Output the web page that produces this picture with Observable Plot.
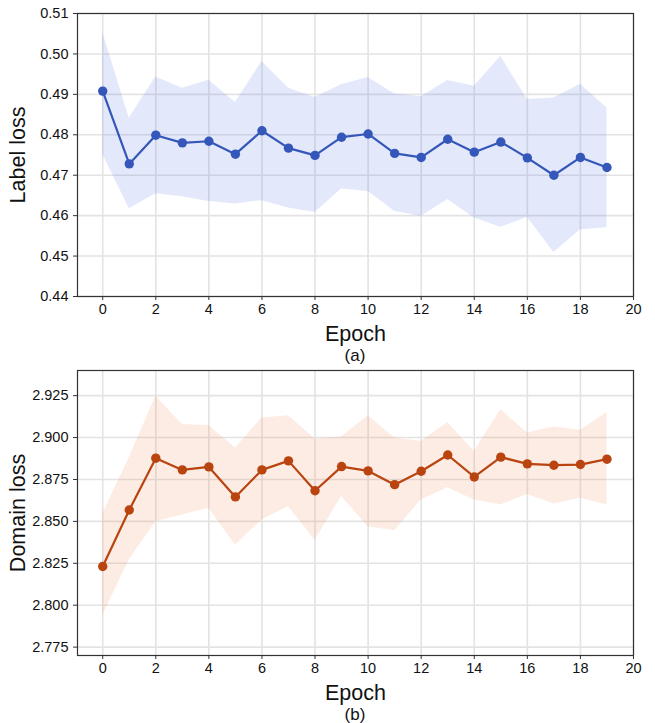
<!DOCTYPE html>
<html>
<head>
<meta charset="utf-8">
<script src="https://cdn.jsdelivr.net/npm/d3@7"></script>
<script src="https://cdn.jsdelivr.net/npm/@observablehq/plot@0.6"></script>
<style>
  body { margin: 0; background: #fff; font-family: "Liberation Sans", Arial, sans-serif; }
  #wrap { width: 655px; height: 723px; position: relative; overflow: hidden; }
  #wrap svg { position: absolute; left: 0; display: block; }
  .cap { position: absolute; left: 355px; transform: translate(-50%, -50%); font-size: 17px; line-height: 1; color: #111; }
</style>
</head>
<body>
<div id="wrap"></div>
<script>
const epochs = [0,1,2,3,4,5,6,7,8,9,10,11,12,13,14,15,16,17,18,19];
const xTicks = [0,2,4,6,8,10,12,14,16,18,20];

const labelMean  = [0.4908,0.4728,0.4799,0.4780,0.4784,0.4752,0.4810,0.4767,0.4749,0.4794,0.4802,0.4754,0.4744,0.4789,0.4757,0.4782,0.4743,0.4700,0.4744,0.4719];
const labelUpper = [0.5053,0.4841,0.4943,0.4915,0.4935,0.4880,0.4981,0.4915,0.4892,0.4924,0.4942,0.4901,0.4894,0.4934,0.4920,0.4994,0.4887,0.4891,0.4925,0.4866];
const labelLower = [0.4752,0.4617,0.4654,0.4647,0.4635,0.4629,0.4637,0.4619,0.4608,0.4666,0.4660,0.4611,0.4598,0.4640,0.4594,0.4571,0.4596,0.4509,0.4565,0.4570];
const labelTicks = [0.44,0.45,0.46,0.47,0.48,0.49,0.50,0.51];

const domainMean  = [2.8231,2.8568,2.8877,2.8807,2.8825,2.8646,2.8807,2.8861,2.8683,2.8827,2.8801,2.8719,2.8799,2.8896,2.8765,2.8883,2.8843,2.8835,2.8839,2.8871];
const domainUpper = [2.8544,2.8880,2.9246,2.9078,2.9072,2.8937,2.9116,2.9130,2.8991,2.9003,2.9130,2.8997,2.8977,2.9090,2.8917,2.9166,2.9027,2.9063,2.9043,2.9150];
const domainLower = [2.7939,2.8269,2.8498,2.8538,2.8578,2.8358,2.8508,2.8588,2.8388,2.8648,2.8468,2.8444,2.8628,2.8701,2.8628,2.8598,2.8661,2.8604,2.8638,2.8598];
const domainTicks = [2.775,2.800,2.825,2.850,2.875,2.900,2.925];

function panel({mean, upper, lower, yTicks, yDomain, yFormat, yLabel, color, bandColor, marginTop, marginBottom, height}) {
  const data = epochs.map((e, i) => ({epoch: e, mean: mean[i], hi: upper[i], lo: lower[i]}));
  return Plot.plot({
    width: 655,
    height,
    marginLeft: 77,
    marginRight: 22,
    marginTop,
    marginBottom,
    style: {fontFamily: "'Liberation Sans', Arial, sans-serif", fontSize: "14.5px", color: "#111", background: "transparent"},
    x: {domain: [-0.95, 20]},
    y: {domain: yDomain},
    marks: [
      Plot.gridX(xTicks, {stroke: "#e3e3e3", strokeOpacity: 1, strokeWidth: 1.6}),
      Plot.gridY(yTicks, {stroke: "#e3e3e3", strokeOpacity: 1, strokeWidth: 1.6}),
      Plot.areaY(data, {x: "epoch", y1: "lo", y2: "hi", fill: bandColor, fillOpacity: 0.15}),
      Plot.line(data, {x: "epoch", y: "mean", stroke: color, strokeWidth: 2.2}),
      Plot.dot(data, {x: "epoch", y: "mean", r: 4.7, fill: color, stroke: null}),
      Plot.frame({stroke: "#333", strokeWidth: 1.2}),
      Plot.axisX(xTicks, {tickSize: 4, tickPadding: 3, label: null, fontSize: 14.5, stroke: "#333"}),
      Plot.axisX([], {label: "Epoch", labelAnchor: "center", labelArrow: "none", labelOffset: 44, fontSize: 21.5, tickSize: 0}),
      Plot.axisY(yTicks, {tickSize: 4, tickPadding: 5, tickFormat: d3.format(yFormat), label: null, fontSize: 14.5, stroke: "#333"}),
      Plot.axisY([], {label: yLabel, labelAnchor: "center", labelArrow: "none", labelOffset: 68, fontSize: 21.5, tickSize: 0})
    ]
  });
}

const wrap = document.getElementById("wrap");
const svgA = panel({
  mean: labelMean, upper: labelUpper, lower: labelLower,
  yTicks: labelTicks, yDomain: [0.44, 0.51], yFormat: ".2f", yLabel: "Label loss",
  color: "#3457b9", bandColor: "#4169e1", marginTop: 13, marginBottom: 68, height: 364
});
svgA.style.top = "0px";
wrap.appendChild(svgA);

const svgB = panel({
  mean: domainMean, upper: domainUpper, lower: domainLower,
  yTicks: domainTicks, yDomain: [2.770, 2.940], yFormat: ".3f", yLabel: "Domain loss",
  color: "#b94410", bandColor: "#f4804a", marginTop: 6, marginBottom: 68, height: 359
});
svgB.style.top = "364px";
wrap.appendChild(svgB);

const capA = document.createElement("div");
capA.className = "cap"; capA.style.top = "355px"; capA.textContent = "(a)";
wrap.appendChild(capA);
const capB = document.createElement("div");
capB.className = "cap"; capB.style.top = "714px"; capB.textContent = "(b)";
wrap.appendChild(capB);
</script>
</body>
</html>
